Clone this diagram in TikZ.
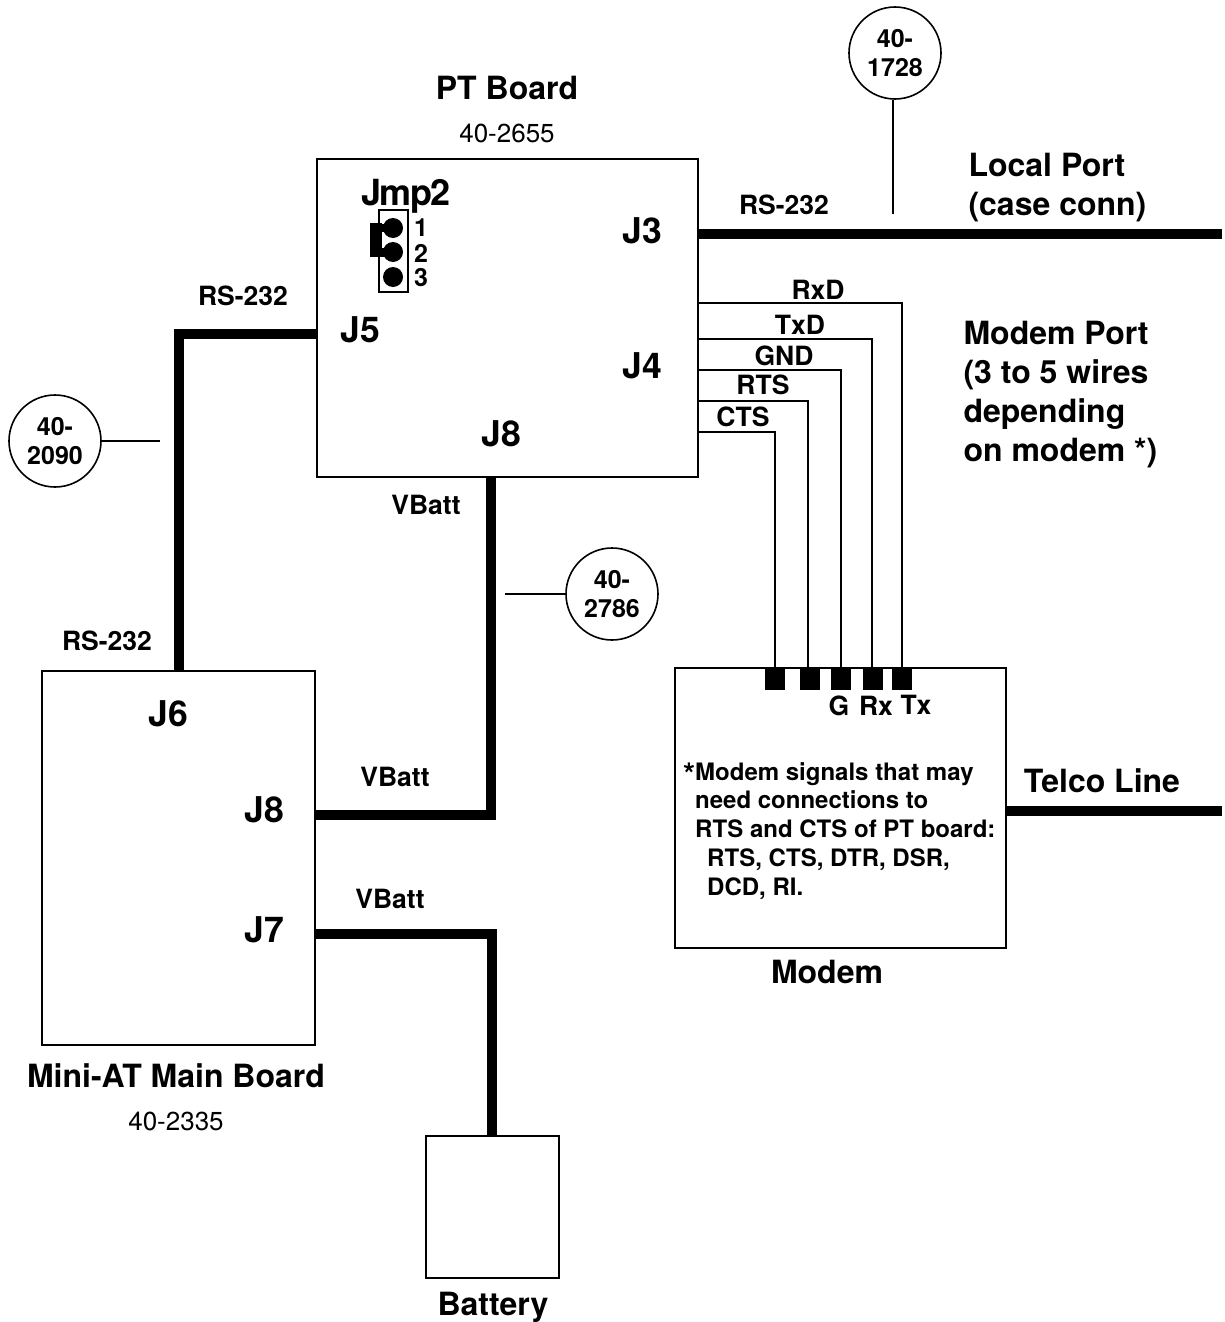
\documentclass[tikz,border=0pt]{standalone}
\usepackage{fontspec}
\setmainfont{TeX Gyre Heros}
\usetikzlibrary{calc,positioning}

\begin{document}
\begin{tikzpicture}[x=1pt, y=-1pt,
  board/.style={rectangle, draw=black, line width=2pt, inner sep=0pt},
  refcircle/.style={circle, draw=black, line width=1.6pt, fill=white, minimum size=92pt, inner sep=0pt, align=center, font=\fontsize{25}{29}\selectfont\bfseries},
  bus/.style={line width=10pt, draw=black},
  wire/.style={line width=2pt, draw=black},
  leader/.style={line width=1.6pt, draw=black},
  pad/.style={rectangle, fill=black, minimum width=20pt, minimum height=22pt, inner sep=0pt},
  conn/.style={font=\fontsize{35.5}{38}\selectfont\bfseries},
  title/.style={font=\fontsize{32}{39}\selectfont\bfseries},
  siglabel/.style={font=\fontsize{26.5}{29}\selectfont\bfseries},
  partno/.style={font=\fontsize{26}{29}\selectfont},
]
\useasboundingbox (0,0) rectangle (1225,1322);

% boards
\node[board, minimum width=381pt, minimum height=318pt] (ptboard) at (507.5,318) {};
\node[board, minimum width=273pt, minimum height=374pt] (mainboard) at (178.5,858) {};
\node[board, minimum width=331pt, minimum height=280pt] (modem) at (840.5,808) {};
\node[board, minimum width=133pt, minimum height=142pt] (battery) at (492.5,1207) {};

% titles
\node[title] (pttitle) at (507,88) {PT Board};
\node[partno] (ptpart) at (507,133) {40-2655};
\node[title] (maintitle) at (176,1076) {Mini-AT Main Board};
\node[partno] (mainpart) at (176,1121) {40-2335};
\node[title] (modemtitle) at (827,972) {Modem};
\node[title] (batterytitle) at (493,1307) {Battery};
\node[title, align=left, anchor=north west] (localtitle) at (965,150) {Local Port\\(case conn)};
\node[title, align=left, anchor=north west] (modemport) at (960,318) {Modem Port\\(3 to 5 wires\\depending\\on modem *)};
\node[title] (telco) at (1102,781) {Telco Line};

% connector names
\node[conn] (j3) at (642,231) {J3};
\node[conn] (j4) at (642,366) {J4};
\node[conn] (j5) at (360,330) {J5};
\node[conn] (ptj8) at (501,434) {J8};
\node[conn] (j6) at (168,714) {J6};
\node[conn] (mainj8) at (264,810) {J8};
\node[conn] (j7) at (264,930) {J7};

% free ends and bends
\coordinate (localend) at (1222,234);
\coordinate (telcoend) at (1222,811);
\coordinate (j5bend) at (179,334);
\coordinate (j8bend) at (491,815);
\coordinate (j7bend) at (492,934);

% thick runs
\draw[bus] (ptboard.east |- localend) -- (localend);
\draw[bus] (modem.east |- telcoend) -- (telcoend);
\draw[bus] (ptboard.west |- j5bend) -- (j5bend) -- (j5bend |- mainboard.north);
\draw[bus] (j8bend |- ptboard.south) -- (j8bend) -- (mainboard.east |- j8bend);
\draw[bus] (mainboard.east |- j7bend) -- (j7bend) -- (j7bend |- battery.north);

% modem wires
\foreach \name/\px/\x/\y/\lx/\ly in {RxD/902/902/303/818/290, TxD/873/872/339/800/325, GND/841/841/370/784/356, RTS/810/808/401/763/385, CTS/775/775/432/743/417} {
  \node[pad] (pad\name) at (\px,679) {};
  \coordinate (bend\name) at (\x,\y);
  \draw[wire] (ptboard.east |- bend\name) -- (bend\name) -- (bend\name |- pad\name.north);
  \node[siglabel] (lab\name) at (\lx,\ly) {\name};
}
\node[siglabel] (labg) at (839,706) {G};
\node[siglabel] (labrx) at (876,706) {Rx};
\node[siglabel] (labtx) at (916,705) {Tx};

% wire labels
\node[siglabel] (rs232a) at (784,205) {RS-232};
\node[siglabel] (rs232b) at (243,296) {RS-232};
\node[siglabel] (rs232c) at (107,641) {RS-232};
\node[siglabel] (vbatta) at (426,505) {VBatt};
\node[siglabel] (vbattb) at (395,777) {VBatt};
\node[siglabel] (vbattc) at (390,899) {VBatt};

% part circles
\node[refcircle] (cable1728) at (895,53) {40-\\1728};
\node[refcircle] (cable2090) at (55,441) {40-\\2090};
\node[refcircle] (cable2786) at (612,594) {40-\\2786};
\coordinate (leader1728) at (893,214);
\coordinate (leader2090) at (160,441);
\coordinate (leader2786) at (505,594);
\draw[leader] (cable1728.south -| leader1728) -- (leader1728);
\draw[leader] (cable2090.east) -- (leader2090);
\draw[leader] (cable2786.west) -- (leader2786);

% jumper
\node[board, line width=1.6pt, minimum width=29pt, minimum height=82pt] (jmpbox) at (393.5,251) {};
\node[font=\fontsize{36}{38}\selectfont\bfseries\addfontfeature{LetterSpace=-5}] (jmptitle) at (406,196) {Jmp2};
\foreach \n/\y/\ly in {1/228/228, 2/252/253, 3/277/278} {
  \node[circle, fill=black, minimum size=20pt, inner sep=0pt] (pin\n) at (393,\y) {};
  \node[inner sep=0pt, font=\fontsize{25}{25}\selectfont\bfseries] (pinlab\n) at (421,\ly) {\n};
}
\fill[black] (370,223) rectangle (382,257);
\fill[black] (382,224) rectangle (393,232);
\fill[black] (382,248) rectangle (393,257);

% modem note
\node[anchor=west, font=\fontsize{31}{31}\selectfont\bfseries, inner sep=0pt] (notestar) at (683,774) {*};
\node[anchor=north west, align=left, font=\fontsize{24}{28.8}\selectfont\bfseries, inner sep=0pt] (note) at (695,762) {Modem signals that may\\need connections to\\RTS and CTS of PT board:\\\hspace*{12pt}RTS, CTS, DTR, DSR,\\\hspace*{12pt}DCD, RI.};
\end{tikzpicture}
\end{document}
